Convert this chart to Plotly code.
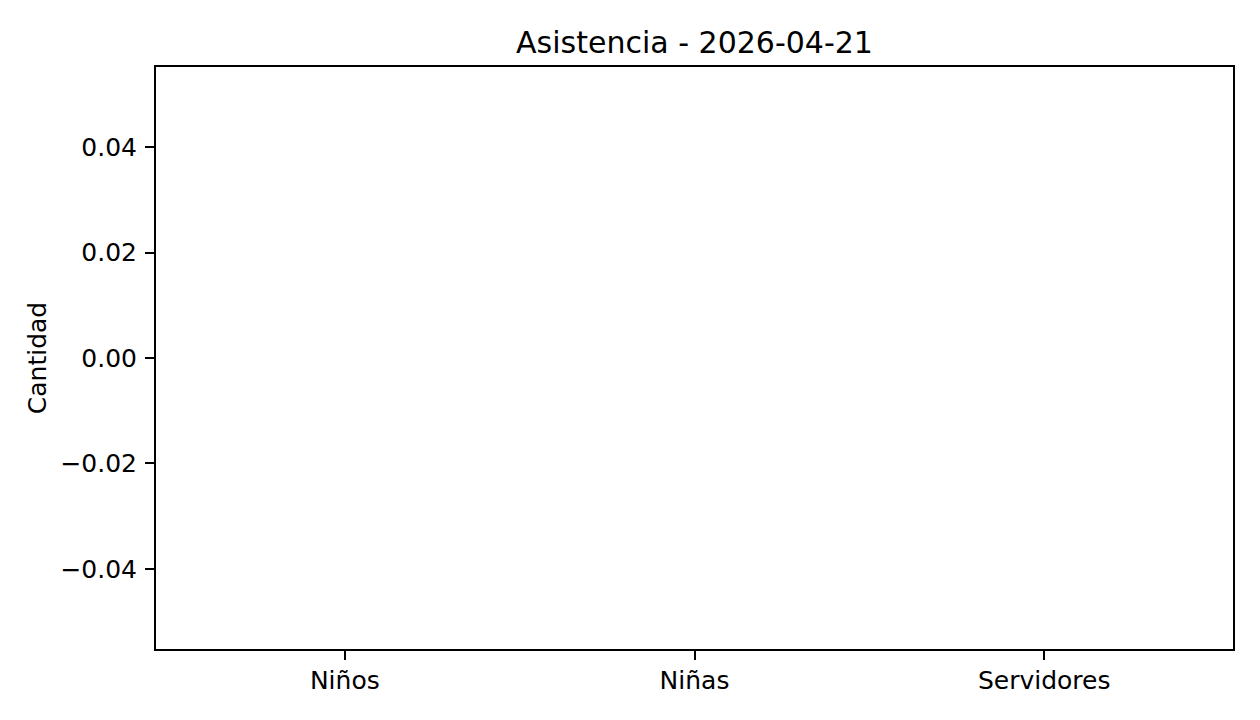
import plotly.graph_objects as go

categories = ["Niños", "Niñas", "Servidores"]
values = [0, 0, 0]
y_tickvals = [-0.04, -0.02, 0.0, 0.02, 0.04]
y_ticktext = ["−0.04", "−0.02", "0.00", "0.02", "0.04"]

W, H = 1260, 720
OFF = 8  # page body margin offset
L, R, T, B = 156 - OFF, 1260 - 1233 + OFF, 67 - OFF, 720 - 649 + OFF

fig = go.Figure()
fig.add_trace(go.Bar(
    x=list(range(len(categories))),
    y=values,
    width=0.8,
    marker=dict(color="#1f77b4", line=dict(width=0)),
    showlegend=False,
))

axis_common = dict(
    showline=True, linecolor="black", linewidth=2, mirror=True,
    ticks="outside", ticklen=9, tickwidth=2, tickcolor="black",
    showgrid=False, zeroline=False,
    tickfont=dict(family="DejaVu Sans", size=25, color="black"),
)

fig.update_layout(
    width=W, height=H,
    margin=dict(l=L, r=R, t=T, b=B, pad=0),
    paper_bgcolor="white", plot_bgcolor="white",
    font=dict(family="DejaVu Sans", color="black"),
    title=dict(
        text="Asistencia - 2026-04-21",
        x=0.5, xref="paper", xanchor="center",
        y=1 - (42 - OFF) / H, yref="container", yanchor="middle",
        font=dict(family="DejaVu Sans", size=30, color="black"),
    ),
    xaxis=dict(
        **axis_common,
        range=[-0.54, 2.54],
        tickvals=list(range(len(categories))),
        ticktext=categories,
        ticklabelstandoff=-1,
    ),
    yaxis=dict(
        **axis_common,
        range=[-0.0552, 0.0552],
        tickvals=y_tickvals,
        ticktext=y_ticktext,
        ticklabelstandoff=3,
        title=dict(text="Cantidad", standoff=7,
                   font=dict(family="DejaVu Sans", size=25, color="black")),
    ),
)

fig.write_html("out.html")
